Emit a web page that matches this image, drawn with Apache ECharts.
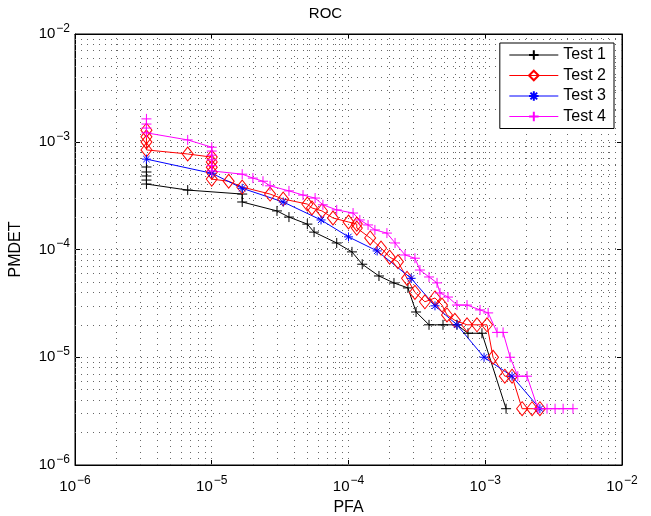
<!DOCTYPE html>
<html>
<head>
<meta charset="utf-8">
<script src="https://cdn.jsdelivr.net/npm/echarts@6/dist/echarts.min.js"></script>
<style>
html,body{margin:0;padding:0;background:#fff;}
#chart{width:651px;height:516px;}
</style>
</head>
<body>
<div id="chart"></div>
<script>
// ---- data (PFA, PMDET) ----
const seriesNames = ['Test 1', 'Test 2', 'Test 3', 'Test 4'];
const xTickLabels = ['10^-6', '10^-5', '10^-4', '10^-3', '10^-2'];
const yTickLabels = ['10^-6', '10^-5', '10^-4', '10^-3', '10^-2'];

const test1 = [
  [3.33e-6, 5.83e-4], [3.33e-6, 5.24e-4], [3.33e-6, 4.81e-4], [3.33e-6, 4.41e-4], [3.33e-6, 4.05e-4],
  [6.67e-6, 3.56e-4], [1.67e-5, 3.27e-4], [1.67e-5, 2.76e-4], [3.0e-5, 2.28e-4], [3.67e-5, 2.0e-4],
  [5.0e-5, 1.72e-4], [5.6e-5, 1.45e-4], [8.2e-5, 1.15e-4], [1.06e-4, 9.5e-5], [1.26e-4, 7.3e-5],
  [1.67e-4, 5.68e-5], [2.15e-4, 4.89e-5], [2.72e-4, 4.4e-5], [3.12e-4, 2.63e-5], [3.88e-4, 2.0e-5],
  [4.91e-4, 2.0e-5], [6.21e-4, 2.0e-5], [7.48e-4, 1.67e-5], [9.46e-4, 1.67e-5], [1.42e-3, 3.33e-6]
];
const test2 = [
  [3.33e-6, 1.28e-3], [3.33e-6, 1.11e-3], [3.33e-6, 9.95e-4], [3.33e-6, 8.4e-4], [6.67e-6, 7.7e-4],
  [1.0e-5, 7.2e-4], [1.0e-5, 6.5e-4], [1.0e-5, 5.8e-4], [1.0e-5, 5.2e-4], [1.0e-5, 4.5e-4],
  [1.33e-5, 4.3e-4], [1.67e-5, 3.8e-4], [2.67e-5, 3.27e-4], [3.33e-5, 2.94e-4], [5.0e-5, 2.64e-4],
  [5.4e-5, 2.43e-4], [6.4e-5, 2.28e-4], [7.7e-5, 1.96e-4], [1.0e-4, 1.8e-4], [1.15e-4, 1.72e-4],
  [1.15e-4, 1.58e-4], [1.44e-4, 1.28e-4], [1.73e-4, 1.03e-4], [2.0e-4, 8.5e-5], [2.3e-4, 7.7e-5],
  [2.68e-4, 5.4e-5], [3.06e-4, 4.0e-5], [3.62e-4, 3.27e-5], [4.29e-4, 3.55e-5], [4.83e-4, 3.05e-5],
  [5.25e-4, 2.47e-5], [6.0e-4, 2.2e-5], [7.36e-4, 2.0e-5], [8.7e-4, 2.0e-5], [1.03e-3, 2.0e-5],
  [1.14e-3, 1.0e-5], [1.39e-3, 6.67e-6], [1.57e-3, 6.67e-6], [1.86e-3, 3.33e-6], [2.2e-3, 3.33e-6],
  [2.51e-3, 3.33e-6]
];
const test3 = [
  [3.33e-6, 6.9e-4], [1.0e-5, 5.1e-4], [1.67e-5, 3.7e-4], [3.33e-5, 2.76e-4], [6.3e-5, 1.88e-4],
  [1.0e-4, 1.31e-4], [1.62e-4, 9.7e-5], [2.87e-4, 5.4e-5], [4.29e-4, 3.0e-5], [6.21e-4, 2.0e-5],
  [9.8e-4, 1.0e-5], [1.57e-3, 6.67e-6], [2.51e-3, 3.33e-6]
];
const test4 = [
  [3.33e-6, 1.63e-3], [3.33e-6, 1.46e-3], [3.33e-6, 1.34e-3], [3.33e-6, 1.21e-3], [6.67e-6, 1.04e-3],
  [1.0e-5, 8.9e-4], [1.0e-5, 8.2e-4], [1.0e-5, 7.5e-4], [1.0e-5, 6.8e-4], [1.0e-5, 6.0e-4],
  [1.0e-5, 5.36e-4], [1.67e-5, 5.0e-4], [2.0e-5, 4.6e-4], [2.37e-5, 4.3e-4], [2.67e-5, 3.9e-4],
  [3.67e-5, 3.5e-4], [4.65e-5, 3.2e-4], [5.7e-5, 3.0e-4], [6.5e-5, 2.6e-4], [8.2e-5, 2.33e-4],
  [1.08e-4, 2.18e-4], [1.21e-4, 1.88e-4], [1.39e-4, 1.69e-4], [1.56e-4, 1.52e-4], [1.91e-4, 1.42e-4],
  [2.19e-4, 1.15e-4], [2.59e-4, 8.9e-5], [3.06e-4, 8.3e-5], [3.33e-4, 6.45e-5], [3.88e-4, 5.56e-5],
  [4.44e-4, 4.9e-5], [4.67e-4, 3.95e-5], [5.34e-4, 3.62e-5], [6.21e-4, 3.05e-5], [7.36e-4, 3.05e-5],
  [9.16e-4, 2.75e-5], [1.05e-3, 2.58e-5], [1.22e-3, 1.7e-5], [1.35e-3, 1.7e-5], [1.52e-3, 1.0e-5],
  [1.73e-3, 6.67e-6], [2.02e-3, 6.67e-6], [2.43e-3, 3.33e-6], [2.83e-3, 3.33e-6], [3.24e-3, 3.33e-6],
  [3.71e-3, 3.33e-6], [4.38e-3, 3.33e-6]
];

// ---- styling ----
const F = 'Liberation Sans, Arial, Helvetica, sans-serif';
const colors = ['#000000', '#ff0000', '#0000ff', '#ff00ff'];
const PLUS = 'path://M5,0L5,10M0,5L10,5';
const STAR = 'path://M5,0L5,10M0,5L10,5M1.5,1.5L8.5,8.5M8.5,1.5L1.5,8.5';
const AX_MIN = 1e-6, AX_MAX = 1e-2;

// grid line positions (1..9 x 10^k), excluding the frame edges
const gridVals = [];
for (let k = -6; k <= -3; k++) {
  for (let m = 1; m <= 9; m++) {
    const v = m * Math.pow(10, k);
    if (v > AX_MIN * 1.0001) gridVals.push(v);
  }
}
const gridLinesData = gridVals.map(v => ({ coords: [[v, AX_MIN], [v, AX_MAX]] }))
  .concat(gridVals.map(v => ({ coords: [[AX_MIN, v], [AX_MAX, v]] })));

function expLabel(v) {
  const e = Math.round(Math.log10(v));
  return '{a|10}{b|\u2212' + Math.abs(e) + '}';
}
const richLabel = {
  a: { fontSize: 15, fontFamily: F, color: '#000' },
  b: { fontSize: 12, fontFamily: F, color: '#000', padding: [0, 0, 11, 1] }
};

const axisCommon = {
  type: 'log', logBase: 10, min: AX_MIN, max: AX_MAX,
  axisLine: { show: true, onZero: false, lineStyle: { color: '#000', width: 1 } },
  axisTick: { show: true, inside: true, length: 5, lineStyle: { color: '#000' } },
  splitLine: { show: false }
};

function mkSeries(name, data, color, symbol, size) {
  return {
    name: name, type: 'line', data: data, z: 3,
    symbol: symbol, symbolSize: size, showSymbol: true,
    lineStyle: { color: color, width: 1 },
    itemStyle: { color: 'rgba(0,0,0,0)', borderColor: color, borderWidth: 1 },
    emphasis: { disabled: true },
    animation: false
  };
}

const chart = echarts.init(document.getElementById('chart'), null, { renderer: 'canvas' });
chart.setOption({
  animation: false,
  backgroundColor: '#fff',
  title: {
    text: 'ROC', left: 'center', top: 1,
    textStyle: { fontFamily: F, fontSize: 15, fontWeight: 'normal', color: '#000' }
  },
  grid: { left: 75, right: 29, top: 34, bottom: 51, containLabel: false, outerBoundsMode: 'none',
          show: true, borderColor: '#000', borderWidth: 1, backgroundColor: 'transparent' },
  legend: {
    data: seriesNames, orient: 'vertical', right: 37, top: 43,
    backgroundColor: '#fff', borderColor: '#000', borderWidth: 1,
    padding: [4, 8, 4, 9], itemWidth: 49, itemHeight: 12, itemGap: 4.5,
    lineStyle: { width: 1 },
    textStyle: { fontFamily: F, fontSize: 16, color: '#000' }
  },
  xAxis: [
    Object.assign({}, axisCommon, {
      position: 'bottom', name: 'PFA', nameLocation: 'middle', nameGap: 35,
      nameTextStyle: { fontFamily: F, fontSize: 16, color: '#000' },
      axisLabel: { formatter: expLabel, rich: richLabel, margin: 10 }
    }),
    Object.assign({}, axisCommon, { position: 'top', axisLabel: { show: false } })
  ],
  yAxis: [
    Object.assign({}, axisCommon, {
      position: 'left', name: 'PMDET', nameLocation: 'middle', nameGap: 51,
      nameTextStyle: { fontFamily: F, fontSize: 16, color: '#000' },
      axisLabel: { formatter: expLabel, rich: richLabel, margin: 5 }
    }),
    Object.assign({}, axisCommon, { position: 'right', axisLabel: { show: false } })
  ],
  series: [
    {
      name: 'grid', type: 'lines', coordinateSystem: 'cartesian2d', z: 1, silent: true,
      polyline: false, animation: false,
      lineStyle: { color: '#666', width: 1, type: [1, 5], opacity: 1 },
      data: gridLinesData
    },
    mkSeries('Test 1', test1, colors[0], PLUS, 10),
    mkSeries('Test 2', test2, colors[1], 'diamond', [11, 14]),
    mkSeries('Test 3', test3, colors[2], STAR, 9),
    mkSeries('Test 4', test4, colors[3], PLUS, 10)
  ]
});
</script>
</body>
</html>
